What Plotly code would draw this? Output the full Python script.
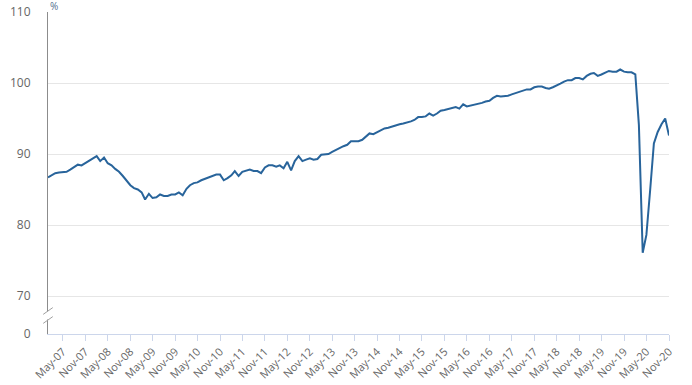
import pandas as pd
import plotly.graph_objects as go

# Monthly index values (%), Jan-07 .. Nov-20
values = [
    86.7, 87.0, 87.3, 87.4, 87.4, 87.5, 87.8, 88.2, 88.5, 88.4, 88.7, 89.1,
    89.3, 89.7, 89.0, 89.5, 88.7, 88.4, 87.9, 87.5, 86.9, 86.2, 85.6, 85.2,
    85.0, 84.6, 83.6, 84.4, 83.8, 83.9, 84.3, 84.1, 84.1, 84.3, 84.3, 84.6,
    84.2, 85.1, 85.6, 85.9, 86.0, 86.3, 86.5, 86.8, 87.0, 87.1, 87.1, 86.3,
    86.6, 87.0, 87.6, 86.9, 87.5, 87.6, 87.8, 87.6, 87.6, 87.3, 88.1, 88.4,
    88.4, 88.2, 88.4, 88.0, 88.9, 87.7, 89.0, 89.7, 89.0, 89.2, 89.4, 89.2,
    89.3, 89.9, 89.9, 90.0, 90.3, 90.6, 90.8, 91.1, 91.3, 91.8, 91.8, 91.8,
    92.0, 92.5, 92.9, 92.8, 93.1, 93.3, 93.6, 93.7, 93.9, 94.1, 94.2, 94.3,
    94.4, 94.6, 94.8, 95.2, 95.2, 95.3, 95.7, 95.4, 95.7, 96.1, 96.2, 96.3,
    96.4, 96.6, 96.4, 97.0, 96.7, 96.8, 96.9, 97.0, 97.2, 97.4, 97.5, 97.9,
    98.2, 98.1, 98.1, 98.2, 98.4, 98.6, 98.8, 98.9, 99.1, 99.1, 99.4, 99.5,
    99.5, 99.3, 99.2, 99.4, 99.6, 99.9, 100.2, 100.4, 100.4, 100.7, 100.7, 100.5,
    101.0, 101.3, 101.4, 101.0, 101.2, 101.4, 101.7, 101.6, 101.6, 101.9, 101.6, 101.5,
    101.5, 101.2, 94.1, 76.1, 78.6, 85.0, 91.5, 93.1, 94.2, 95.0, 92.6,
]
months = pd.date_range("2007-01-01", periods=len(values), freq="MS")

tick_dates = [d for d in months if d.month in (5, 11)]
tick_labels = [d.strftime("%b-%y") for d in tick_dates]

# broken y axis: "0" shown just below 70
ZERO_POS = 64.65
y_tickvals = [ZERO_POS, 70, 80, 90, 100, 110]
y_ticktext = ["0", "70", "80", "90", "100", "110"]

fig = go.Figure()
fig.add_trace(go.Scatter(
    x=months, y=values, mode="lines",
    line=dict(color="#28649b", width=2),
    hoverinfo="skip", showlegend=False,
))

font = dict(family="Open Sans, Arial, sans-serif", size=11, color="#666666")

fig.update_layout(
    width=692, height=385,
    margin=dict(l=48, r=23, t=12, b=51, autoexpand=False),
    paper_bgcolor="white", plot_bgcolor="white",
    font=font,
    xaxis=dict(
        range=[months[0], months[-1]],
        tickvals=tick_dates, ticktext=tick_labels,
        tickangle=-45, automargin=False,
        ticks="outside", ticklen=6, tickcolor="#ccd6eb", tickwidth=1,
        showline=True, linecolor="#ccd6eb", linewidth=1,
        showgrid=False, zeroline=False,
        tickfont=dict(size=11, color="#666666"),
    ),
    yaxis=dict(
        range=[ZERO_POS, 110],
        tickvals=y_tickvals, ticktext=y_ticktext,
        automargin=False,
        showgrid=True, gridcolor="#e6e6e6", gridwidth=1,
        showline=True, linecolor="#8c8c8c", linewidth=1,
        ticks="", ticklabelstandoff=14,
        zeroline=False,
        tickfont=dict(size=12, color="#666666"),
    ),
    shapes=[
        dict(type="rect", xref="paper", yref="paper",
             x0=-0.006, x1=0.006, y0=0.045, y1=0.07,
             fillcolor="white", line=dict(width=0), layer="above"),
        dict(type="line", xref="paper", yref="paper",
             x0=-0.0077, y0=0.061, x1=0.0077, y1=0.082,
             line=dict(color="#a0a0a0", width=1), layer="above"),
        dict(type="line", xref="paper", yref="paper",
             x0=-0.0077, y0=0.033, x1=0.0077, y1=0.054,
             line=dict(color="#a0a0a0", width=1), layer="above"),
    ],
    annotations=[
        dict(text="%", xref="paper", yref="paper", x=0, y=1,
             xanchor="left", yanchor="bottom", showarrow=False,
             font=dict(size=10, color="#55708f"), yshift=-3),
    ],
)

fig.write_html("out.html", config={"displayModeBar": False},
               post_script="document.body.style.margin='0';")
